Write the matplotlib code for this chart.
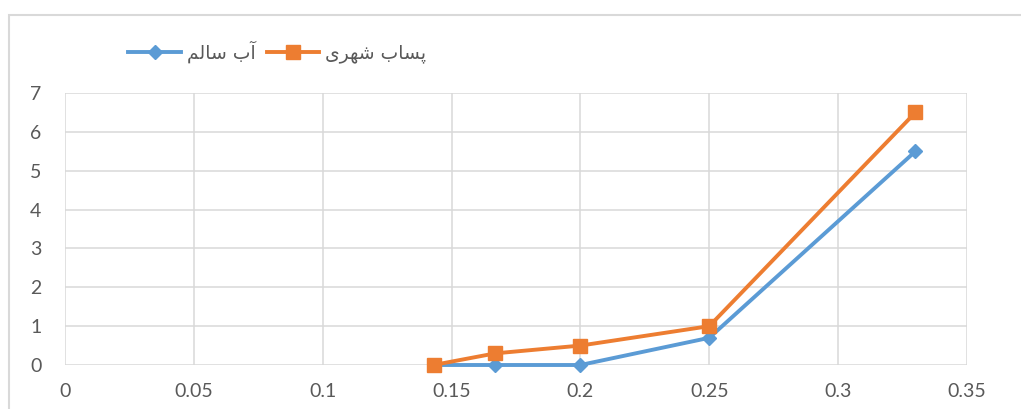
import matplotlib
matplotlib.use("Agg")
import matplotlib.pyplot as plt
from matplotlib.patches import Rectangle

# Data
x_values = [0.143, 0.167, 0.2, 0.25, 0.33]
clean_water = [0, 0, 0, 0.7, 5.5]
urban_wastewater = [0, 0.3, 0.5, 1.0, 6.5]
# Series names (Persian). Drawn with presentation forms in visual order,
# since matplotlib performs no Arabic shaping / bidi.
name_clean_logical = "آب سالم"
name_waste_logical = "پساب شهری"
name_clean = "\uFEE2\uFEDF\uFE8E\uFEB3 \uFE8F\uFE81"
name_waste = "\uFBFC\uFEAE\uFEEC\uFEB7 \uFE8F\uFE8E\uFEB4\uFB58"
x_ticks = [0, 0.05, 0.1, 0.15, 0.2, 0.25, 0.3, 0.35]
x_tick_labels = ["0", "0.05", "0.1", "0.15", "0.2", "0.25", "0.3", "0.35"]
y_ticks = [0, 1, 2, 3, 4, 5, 6, 7]

plt.rcParams['font.family'] = ['Lato', 'DejaVu Sans']
W, H = 1021, 409
fig = plt.figure(figsize=(W/100, H/100), dpi=100)
fig.patch.set_facecolor('white')

# outer chart border
fig.patches.append(Rectangle((9/W, -0.1), 1.2, (1 - 15/H) + 0.1, transform=fig.transFigure,
                             fill=False, edgecolor='#d9d9d9', linewidth=1.5, zorder=0))

ax = fig.add_axes([65/W, 1 - 365/H, (967-65)/W, (365-93)/H])
blue = '#5b9bd5'
orange = '#ed7d31'
grid_c = '#d9d9d9'
text_c = '#595959'

l1, = ax.plot(x_values, clean_water, color=blue, lw=2.8, marker='D', markersize=7.5,
              label=name_clean, zorder=3, clip_on=False)
l2, = ax.plot(x_values, urban_wastewater, color=orange, lw=2.8, marker='s', markersize=10,
              label=name_waste, zorder=4, clip_on=False)

ax.set_xlim(0, 0.35)
ax.set_ylim(0, 7)
ax.set_xticks(x_ticks)
ax.set_xticklabels(x_tick_labels)
ax.set_yticks(y_ticks)
ax.grid(True, color=grid_c, lw=1.1)
ax.set_axisbelow(True)
for s in ax.spines.values():
    s.set_visible(False)
ax.tick_params(axis='both', length=0, labelsize=14, colors=text_c)
ax.tick_params(axis='x', pad=13)
ax.tick_params(axis='y', pad=17)

leg = fig.legend(handles=[l1, l2], loc='center', bbox_to_anchor=(277/W, 1 - 52/H),
                 ncol=2, frameon=False, handlelength=2.8, handletextpad=0.3,
                 columnspacing=0.6, prop={'family': ['DejaVu Sans'], 'size': 13.5})
for t in leg.get_texts():
    t.set_color(text_c)

fig.savefig('out.png', dpi=100)
